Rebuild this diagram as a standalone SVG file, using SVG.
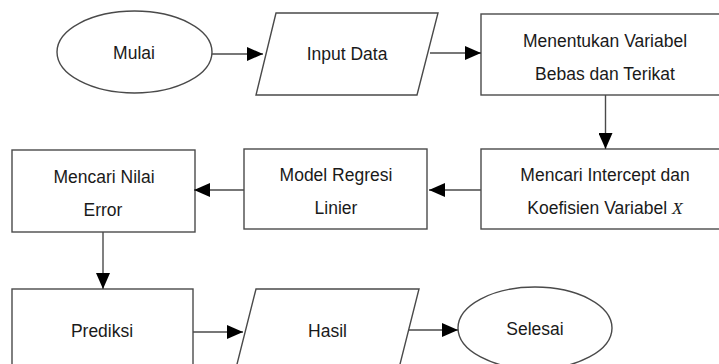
<svg xmlns="http://www.w3.org/2000/svg" width="719" height="364" viewBox="0 0 719 364">
  <style>
    .shape { fill: #ffffff; stroke: #4a4a4a; stroke-width: 1.4; }
    .edge { fill: none; stroke: #4a4a4a; stroke-width: 1.4; }
    .label { font-family: "Liberation Sans", Arial, sans-serif; font-size: 17.5px; fill: #1a1a1a; text-anchor: middle; }
    .math { font-family: "Liberation Serif", "DejaVu Serif", serif; font-style: italic; }
  </style>
  <defs>
    <marker id="arrow" markerUnits="userSpaceOnUse" markerWidth="16" markerHeight="14" refX="16" refY="7" orient="auto">
      <path d="M0,0 L16,7 L0,14 Z" fill="#000000"/>
    </marker>
  </defs>

  <rect width="719" height="364" fill="#ffffff"/>

  <g id="mulai">
    <ellipse class="shape" cx="134.5" cy="52" rx="77.5" ry="41"/>
    <text class="label" x="134" y="59">Mulai</text>
  </g>

  <g id="input-data">
    <polygon class="shape" points="276,13 438,13 417,95 256,95"/>
    <text class="label" x="347" y="60">Input Data</text>
  </g>

  <g id="menentukan-variabel">
    <rect class="shape" x="481" y="14" width="250" height="81"/>
    <text class="label" x="605" y="47">Menentukan Variabel</text>
    <text class="label" x="605" y="80">Bebas dan Terikat</text>
  </g>

  <g id="mencari-intercept">
    <rect class="shape" x="481" y="149" width="250" height="80"/>
    <text class="label" x="605" y="181">Mencari Intercept dan</text>
    <text class="label" x="605" y="214">Koefisien Variabel <tspan class="math">X</tspan></text>
  </g>

  <g id="model-regresi">
    <rect class="shape" x="244" y="149" width="183" height="80"/>
    <text class="label" x="336" y="181">Model Regresi</text>
    <text class="label" x="336" y="214">Linier</text>
  </g>

  <g id="mencari-nilai-error">
    <rect class="shape" x="12" y="150" width="183" height="82"/>
    <text class="label" x="104" y="183">Mencari Nilai</text>
    <text class="label" x="103" y="216">Error</text>
  </g>

  <g id="prediksi">
    <rect class="shape" x="12" y="289" width="181" height="90"/>
    <text class="label" x="102" y="337">Prediksi</text>
  </g>

  <g id="hasil">
    <polygon class="shape" points="256,289 419,289 396,380 233,380"/>
    <text class="label" x="327.5" y="337">Hasil</text>
  </g>

  <g id="selesai">
    <ellipse class="shape" cx="535" cy="328" rx="77" ry="41"/>
    <text class="label" x="535" y="335">Selesai</text>
  </g>

  <g id="connectors">
    <line class="edge" x1="212" y1="54" x2="263" y2="54" marker-end="url(#arrow)"/>
    <line class="edge" x1="430" y1="53" x2="481" y2="53" marker-end="url(#arrow)"/>
    <line class="edge" x1="605.5" y1="95" x2="605.5" y2="149" marker-end="url(#arrow)"/>
    <line class="edge" x1="481" y1="190" x2="429" y2="190" marker-end="url(#arrow)"/>
    <line class="edge" x1="244" y1="190" x2="194" y2="190" marker-end="url(#arrow)"/>
    <line class="edge" x1="103" y1="232" x2="103" y2="289" marker-end="url(#arrow)"/>
    <line class="edge" x1="193" y1="332" x2="243" y2="332" marker-end="url(#arrow)"/>
    <line class="edge" x1="409" y1="330" x2="458" y2="330" marker-end="url(#arrow)"/>
  </g>
</svg>
